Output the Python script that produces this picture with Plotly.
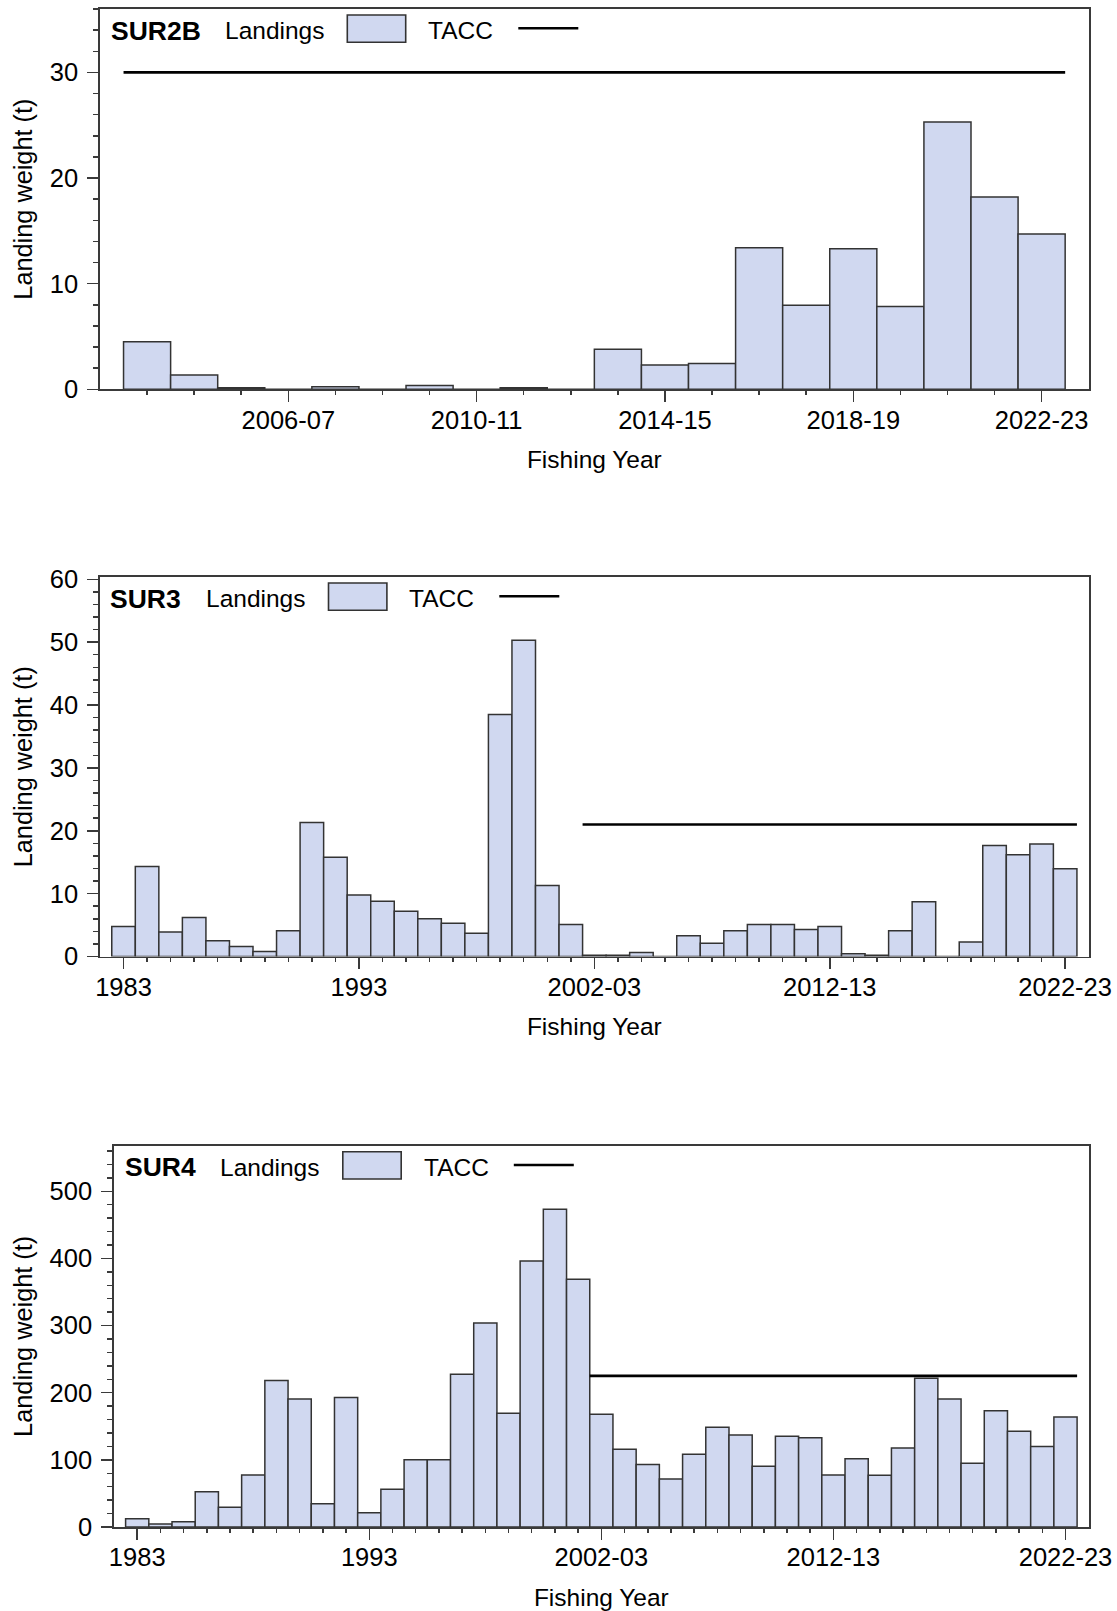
import plotly.graph_objects as go

# ---------------- data ----------------
sur2b_years = ["2003-04", "2004-05", "2005-06", "2006-07", "2007-08", "2008-09", "2009-10",
               "2010-11", "2011-12", "2012-13", "2013-14", "2014-15", "2015-16", "2016-17",
               "2017-18", "2018-19", "2019-20", "2020-21", "2021-22", "2022-23"]
sur2b_landings = [4.5, 1.35, 0.15, 0, 0.25, 0, 0.35, 0, 0.15, 0,
                  3.78, 2.3, 2.45, 13.4, 7.96, 13.3, 7.84, 25.3, 18.2, 14.7]
sur2b_tacc = [30, 30, 30, 30, 30, 30, 30, 30, 30, 30,
              30, 30, 30, 30, 30, 30, 30, 30, 30, 30]

long_years = ["1983", "1984", "1985", "1986", "1987", "1988", "1989", "1990", "1991", "1992",
              "1993", "1993-94", "1994-95", "1995-96", "1996-97", "1997-98", "1998-99",
              "1999-00", "2000-01", "2001-02", "2002-03", "2003-04", "2004-05", "2005-06",
              "2006-07", "2007-08", "2008-09", "2009-10", "2010-11", "2011-12", "2012-13",
              "2013-14", "2014-15", "2015-16", "2016-17", "2017-18", "2018-19", "2019-20",
              "2020-21", "2021-22", "2022-23"]

sur3_landings = [4.76, 14.3, 3.9, 6.2, 2.5, 1.6, 0.8, 4.1, 21.3, 15.8, 9.8,
                 8.8, 7.2, 6.0, 5.3, 3.7, 38.5, 50.3, 11.3, 5.1, 0.2,
                 0.2, 0.63, 0, 3.3, 2.1, 4.1, 5.1, 5.1, 4.3, 4.76,
                 0.45, 0.2, 4.1, 8.7, 0, 2.3, 17.65, 16.2, 17.9, 13.95]
sur3_tacc = [None, None, None, None, None, None, None, None, None, None, None,
             None, None, None, None, None, None, None, None, None, 21,
             21, 21, 21, 21, 21, 21, 21, 21, 21, 21,
             21, 21, 21, 21, 21, 21, 21, 21, 21, 21]

sur4_landings = [12.4, 4.5, 7.9, 52.6, 29.3, 77.5, 218, 190.7, 34.8, 192.7, 21.4,
                 56.1, 100.3, 100.3, 227.4, 303.9, 169.3, 396.2, 473.2, 369, 167.8,
                 115.7, 92.9, 71.5, 108.2, 148.5, 137, 90.4, 135, 133, 77.5,
                 101.8, 77, 117.7, 221.4, 190.7, 94.8, 173.3, 142.5, 119.7, 163.9]
sur4_tacc = [None, None, None, None, None, None, None, None, None, None, None,
             None, None, None, None, None, None, None, None, None, 225,
             225, 225, 225, 225, 225, 225, 225, 225, 225, 225,
             225, 225, 225, 225, 225, 225, 225, 225, 225, 225]

sur2b_tick_labels = ["2006-07", "2010-11", "2014-15", "2018-19", "2022-23"]
long_tick_labels = ["1983", "1993", "2002-03", "2012-13", "2022-23"]

# ---------------- style ----------------
PAGE_W, PAGE_H = 1117, 1611
OFF = 0                      # body margin removed via post_script
FW, FH = PAGE_W - OFF, PAGE_H - OFF
FONT = "Liberation Sans, Arial, Helvetica, sans-serif"
BAR_FILL = "#D0D8F0"
EDGE = "#333333"
FRAME = "#3A3A3A"
FS = 24.5
TFS = 25.5
YTFS = 25.3

panels = [
    dict(name="SUR2B", cats=sur2b_years, land=sur2b_landings, tacc=sur2b_tacc,
         ticklabels=sur2b_tick_labels, ydtick=10, yminor=2,
         frame=(100, 1088.7, 9, 389.3),
         leg=dict(label=108.7, land=222.8, box=347.3, tacc=426.3, line=518.3, top=9)),
    dict(name="SUR3", cats=long_years, land=sur3_landings, tacc=sur3_tacc,
         ticklabels=long_tick_labels, ydtick=10, yminor=2,
         frame=(100, 1088.7, 577, 956.5),
         leg=dict(label=108.0, land=203.6, box=328.5, tacc=407.1, line=499.3, top=577)),
    dict(name="SUR4", cats=long_years, land=sur4_landings, tacc=sur4_tacc,
         ticklabels=long_tick_labels, ydtick=100, yminor=20,
         frame=(114, 1088.7, 1145.7, 1527),
         leg=dict(label=123.0, land=218.3, box=342.8, tacc=421.8, line=513.8, top=1145.7)),
]

fig = go.Figure()
shapes = []
annotations = []

def px2x(p):
    return (p - OFF) / FW

def px2y(p):
    return 1 - (p - OFF) / FH

for k, p in enumerate(panels, start=1):
    xa = "x" if k == 1 else f"x{k}"
    ya = "y" if k == 1 else f"y{k}"
    n = len(p["cats"])
    idx = list(range(n))

    fig.add_trace(go.Bar(
        x=idx, y=p["land"], width=1, xaxis=xa, yaxis=ya, showlegend=False,
        marker=dict(color=BAR_FILL, line=dict(color=EDGE, width=1.5)),
        name="Landings"))

    tx, ty = [], []
    for i, v in enumerate(p["tacc"]):
        if v is not None:
            tx += [i - 0.5, i + 0.5]
            ty += [v, v]
    fig.add_trace(go.Scatter(
        x=tx, y=ty, mode="lines", xaxis=xa, yaxis=ya, showlegend=False,
        line=dict(color="black", width=2.6), name="TACC"))

    tickvals = [p["cats"].index(t) for t in p["ticklabels"]]
    ymax = 1.2 * max(max(p["land"]), max(v for v in p["tacc"] if v is not None))

    x0, x1, top, bot = p["frame"]
    xdom = [px2x(x0), px2x(x1)]
    ydom = [px2y(bot), px2y(top)]

    fig.update_layout({
        ("xaxis" if k == 1 else f"xaxis{k}"): dict(
            domain=xdom, anchor=ya, range=[-1, n], showline=True, linecolor=FRAME,
            linewidth=1.8, mirror=True, showgrid=False, zeroline=False, automargin=False,
            ticks="outside", tickmode="array", tickvals=tickvals, ticktext=p["ticklabels"],
            ticklen=11, tickwidth=1.5, tickcolor=FRAME, ticklabelstandoff=-4,
            tickfont=dict(family=FONT, size=TFS, color="black"),
            minor=dict(ticks="outside", tickmode="array", tickvals=idx, ticklen=4,
                       tickwidth=1.5, tickcolor=FRAME, showgrid=False),
            title=dict(text="Fishing Year", font=dict(family=FONT, size=FS, color="black"),
                       standoff=18)),
        ("yaxis" if k == 1 else f"yaxis{k}"): dict(
            domain=ydom, anchor=xa, range=[0, ymax], showline=True, linecolor=FRAME,
            linewidth=1.8, mirror=True, showgrid=False, zeroline=False, automargin=False,
            ticks="outside", tickmode="linear", tick0=0, dtick=p["ydtick"],
            ticklen=11, tickwidth=1.5, tickcolor=FRAME, ticklabelstandoff=4,
            tickfont=dict(family=FONT, size=TFS, color="black"),
            minor=dict(ticks="outside", dtick=p["yminor"], ticklen=5, tickwidth=1.5,
                       tickcolor=FRAME, showgrid=False),
            title=dict(text="Landing weight (t)", font=dict(family=FONT, size=YTFS, color="black"),
                       standoff=10)),
    })

    # in-plot legend row
    L = p["leg"]
    cy = L["top"] + 21.5
    annotations.append(dict(x=px2x(L["label"]), y=px2y(cy), xref="paper", yref="paper",
                            text="<b>" + p["name"] + "</b>", showarrow=False,
                            xanchor="left", yanchor="middle",
                            font=dict(family=FONT, size=26.5, color="black")))
    annotations.append(dict(x=px2x(L["land"]), y=px2y(cy), xref="paper", yref="paper",
                            text="Landings", showarrow=False, xanchor="left", yanchor="middle",
                            font=dict(family=FONT, size=FS, color="black")))
    annotations.append(dict(x=px2x(L["tacc"]), y=px2y(cy), xref="paper", yref="paper",
                            text="TACC", showarrow=False, xanchor="left", yanchor="middle",
                            font=dict(family=FONT, size=FS, color="black")))
    shapes.append(dict(type="rect", xref="paper", yref="paper",
                       x0=px2x(L["box"]), x1=px2x(L["box"] + 58.4),
                       y0=px2y(L["top"] + 6), y1=px2y(L["top"] + 33.3),
                       fillcolor=BAR_FILL, line=dict(color=EDGE, width=1.6)))
    shapes.append(dict(type="line", xref="paper", yref="paper",
                       x0=px2x(L["line"]), x1=px2x(L["line"] + 60),
                       y0=px2y(L["top"] + 19.3), y1=px2y(L["top"] + 19.3),
                       line=dict(color="black", width=2.6)))

fig.update_layout(
    width=FW, height=FH, autosize=False,
    margin=dict(l=0, r=0, t=0, b=0, autoexpand=False),
    paper_bgcolor="white", plot_bgcolor="white",
    bargap=0, showlegend=False, hovermode=False,
    font=dict(family=FONT, size=FS, color="black"),
    shapes=shapes, annotations=annotations,
)

fig.write_html(
    "out.html",
    config={"displayModeBar": False, "staticPlot": True},
    post_script="document.body.style.margin='0';document.body.style.overflow='hidden';",
)
